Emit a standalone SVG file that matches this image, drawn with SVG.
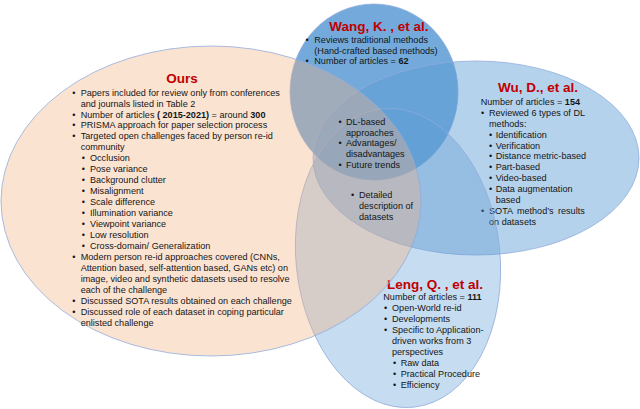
<svg xmlns="http://www.w3.org/2000/svg" width="640" height="409" viewBox="0 0 640 409">
<style>
text{font-family:"Liberation Sans",Arial,sans-serif;font-size:9.1px;fill:#151515}
.h{font-weight:bold;font-size:13.5px;fill:#c00000;text-anchor:middle}
.b{font-weight:bold}
.e{stroke:#8eaadb;stroke-width:0.9;stroke-opacity:0.85}
</style>
<rect width="640" height="409" fill="#ffffff"/>
<g id="wang">
<ellipse class="e" cx="374" cy="92" rx="84" ry="88" fill="#5b9bd5" fill-opacity="0.85"/>
<text class="h" x="379" y="31">Wang, K. , et al.</text>
<text x="305.5" y="42.6">•</text><text x="314.3" y="42.6">Reviews traditional methods</text>
<text x="314.3" y="53.5">(Hand-crafted based methods)</text>
<text x="305.5" y="64.4">•</text><text x="314.3" y="64.4">Number of articles = <tspan class="b">62</tspan></text>
</g>
<g id="wu">
<ellipse class="e" cx="476" cy="158" rx="163" ry="97" fill="#5b9bd5" fill-opacity="0.45"/>
<text class="h" x="538" y="92">Wu, D., et al.</text>
<text x="480.7" y="104.7">Number of articles = <tspan class="b">154</tspan></text>
<text x="481" y="115.6">•</text><text x="489" y="115.6">Reviewed 6 types of DL</text>
<text x="489" y="126.6">methods:</text>
<text x="489" y="137.5">•</text><text x="495.7" y="137.5">Identification</text>
<text x="489" y="148.5">•</text><text x="495.7" y="148.5">Verification</text>
<text x="489" y="159.4">•</text><text x="495.7" y="159.4">Distance metric-based</text>
<text x="489" y="170.4">•</text><text x="495.7" y="170.4">Part-based</text>
<text x="489" y="181.3">•</text><text x="495.7" y="181.3">Video-based</text>
<text x="489" y="192.3">•</text><text x="495.7" y="192.3">Data augmentation</text>
<text x="495.7" y="203.2">based</text>
<text x="481" y="214.2">•</text><text x="489" y="214.2" word-spacing="1.8">SOTA method’s results</text>
<text x="489" y="225.1">on datasets</text>
</g>
<g id="leng">
<ellipse class="e" cx="398" cy="258" rx="102" ry="150" transform="rotate(-6 398 258)" fill="#5b9bd5" fill-opacity="0.35"/>
<text class="h" x="435" y="289">Leng, Q. , et al.</text>
<text x="383.3" y="300.3">Number of articles = <tspan class="b">111</tspan></text>
<text x="384" y="311.3">•</text><text x="392" y="311.3">Open-World re-id</text>
<text x="384" y="322.3">•</text><text x="392" y="322.3">Developments</text>
<text x="384" y="333.3">•</text><text x="392" y="333.3">Specific to Application-</text>
<text x="392" y="344.3">driven works from 3</text>
<text x="392" y="355.3">perspectives</text>
<text x="393" y="366.3">•</text><text x="400.7" y="366.3">Raw data</text>
<text x="393" y="377.3">•</text><text x="400.7" y="377.3">Practical Procedure</text>
<text x="393" y="388.3">•</text><text x="400.7" y="388.3">Efficiency</text>
</g>
<g id="ours">
<ellipse class="e" cx="211" cy="201" rx="210" ry="155" fill="#f4b183" fill-opacity="0.36"/>
<text class="h" x="182" y="83.3">Ours</text>
<text x="72.3" y="95.6">•</text><text x="80.7" y="95.6">Papers included for review only from conferences</text>
<text x="80.7" y="106.55">and journals listed in Table 2</text>
<text x="72.3" y="117.5">•</text><text x="80.7" y="117.5">Number of articles <tspan class="b">( 2015-2021)</tspan> = around <tspan class="b">300</tspan></text>
<text x="72.3" y="128.45">•</text><text x="80.7" y="128.45">PRISMA approach for paper selection process</text>
<text x="72.3" y="139.4">•</text><text x="80.7" y="139.4">Targeted open challenges faced by person re-id</text>
<text x="80.7" y="150.35">community</text>
<text x="81.7" y="161.3">•</text><text x="90" y="161.3">Occlusion</text>
<text x="81.7" y="172.25">•</text><text x="90" y="172.25">Pose variance</text>
<text x="81.7" y="183.2">•</text><text x="90" y="183.2">Background clutter</text>
<text x="81.7" y="194.15">•</text><text x="90" y="194.15">Misalignment</text>
<text x="81.7" y="205.1">•</text><text x="90" y="205.1">Scale difference</text>
<text x="81.7" y="216.05">•</text><text x="90" y="216.05">Illumination variance</text>
<text x="81.7" y="227">•</text><text x="90" y="227">Viewpoint variance</text>
<text x="81.7" y="237.95">•</text><text x="90" y="237.95">Low resolution</text>
<text x="81.7" y="248.9">•</text><text x="90" y="248.9">Cross-domain/ Generalization</text>
<text x="72.3" y="259.85">•</text><text x="80.7" y="259.85">Modern person re-id approaches covered (CNNs,</text>
<text x="80.7" y="270.8">Attention based, self-attention based, GANs etc) on</text>
<text x="80.7" y="281.75">image, video and synthetic datasets used to resolve</text>
<text x="80.7" y="292.7">each of the challenge</text>
<text x="72.3" y="303.65">•</text><text x="80.7" y="303.65">Discussed SOTA results obtained on each challenge</text>
<text x="72.3" y="314.6">•</text><text x="80.7" y="314.6">Discussed role of each dataset in coping particular</text>
<text x="80.7" y="325.55">enlisted challenge</text>
</g>
<g id="shared">
<text x="338.5" y="124.7">•</text><text x="346" y="124.7">DL-based</text>
<text x="346" y="135.55">approaches</text>
<text x="338.5" y="146.4">•</text><text x="346" y="146.4">Advantages/</text>
<text x="346" y="157.25">disadvantages</text>
<text x="338.5" y="168.1">•</text><text x="346" y="168.1">Future trends</text>
<text x="351" y="197.6">•</text><text x="359" y="197.6">Detailed</text>
<text x="359" y="208.6">description of</text>
<text x="359" y="219.6">datasets</text>
</g>
<g id="connectors"/>
</svg>
